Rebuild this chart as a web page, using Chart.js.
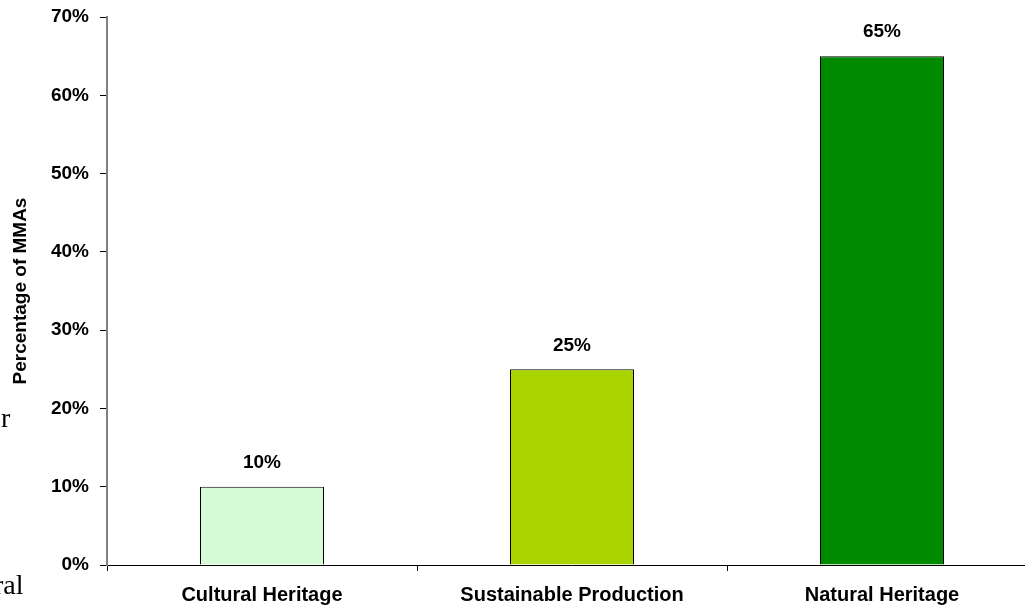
<!DOCTYPE html>
<html>
<head>
<meta charset="utf-8">
<script src="https://cdn.jsdelivr.net/npm/chart.js@4/dist/chart.umd.min.js"></script>
<style>
  html, body { margin: 0; padding: 0; background: #fff; overflow: hidden; }
  #wrap { position: relative; width: 1040px; height: 606px; }
  .frag { position: absolute; font-family: "Liberation Serif", serif; font-size: 28px; color: #000; }
</style>
</head>
<body>
<div id="wrap">
  <canvas id="mma-chart" width="1040" height="606"></canvas>
  <div class="frag" style="left:1px; top:402px;">r</div>
  <div class="frag" style="left:-6px; top:569px;">ral</div>
</div>
<script>
// Share of MMAs by primary objective
const categories = ['Cultural Heritage', 'Sustainable Production', 'Natural Heritage'];
const shares = [10, 25, 65];
const barColors = ['#d6fbd6', '#aad400', '#008a00'];
const yTicks = [0, 10, 20, 30, 40, 50, 60, 70];

const FONT = '"Liberation Sans", Arial, sans-serif';

// Value labels above each bar
const valueLabels = {
    id: 'valueLabels',
    afterDatasetsDraw: function(chart) {
        const ctx = chart.ctx;
        const meta = chart.getDatasetMeta(0);
        ctx.save();
        ctx.font = 'bold 19px ' + FONT;
        ctx.fillStyle = '#000';
        ctx.textAlign = 'center';
        ctx.textBaseline = 'middle';
        meta.data.forEach(function(bar, i) {
            ctx.fillText(shares[i] + '%', bar.x, bar.y - 24);
        });
        ctx.restore();
    }
};

new Chart(document.getElementById('mma-chart'), {
    type: 'bar',
    data: {
        labels: categories,
        datasets: [{
            data: shares,
            backgroundColor: barColors,
            borderColor: '#000',
            borderWidth: 1,
            categoryPercentage: 1,
            barPercentage: 0.4
        }]
    },
    options: {
        responsive: false,
        animation: false,
        layout: { padding: { top: 17, right: 3, left: 0, bottom: 0 } },
        plugins: {
            legend: { display: false },
            tooltip: { enabled: false }
        },
        scales: {
            x: {
                grid: {
                    drawOnChartArea: false,
                    tickLength: 6,
                    color: '#000',
                    offset: true
                },
                border: { color: '#000', width: 1 },
                ticks: {
                    color: '#000',
                    font: { family: FONT, size: 20, weight: 'bold' },
                    padding: 12,
                    maxRotation: 0
                },
                afterFit: function(scale) { scale.height = 41; }
            },
            y: {
                min: 0,
                max: 70,
                afterBuildTicks: function(scale) {
                    scale.ticks = yTicks.map(function(v) { return { value: v }; });
                },
                grid: {
                    drawOnChartArea: false,
                    tickLength: 7,
                    color: '#000'
                },
                border: { color: '#808080', width: 2 },
                ticks: {
                    color: '#000',
                    font: { family: FONT, size: 19, weight: 'bold' },
                    padding: 11,
                    callback: function(v) { return v + '%'; }
                },
                title: {
                    display: true,
                    text: 'Percentage of MMAs',
                    color: '#000',
                    font: { family: FONT, size: 19, weight: 'bold' },
                    padding: { top: 9, bottom: 0 }
                },
                afterFit: function(scale) {
                    scale.width = 107;
                    scale.paddingTop = 0;
                    scale.paddingBottom = 0;
                }
            }
        }
    },
    plugins: [valueLabels]
});
</script>
</body>
</html>
